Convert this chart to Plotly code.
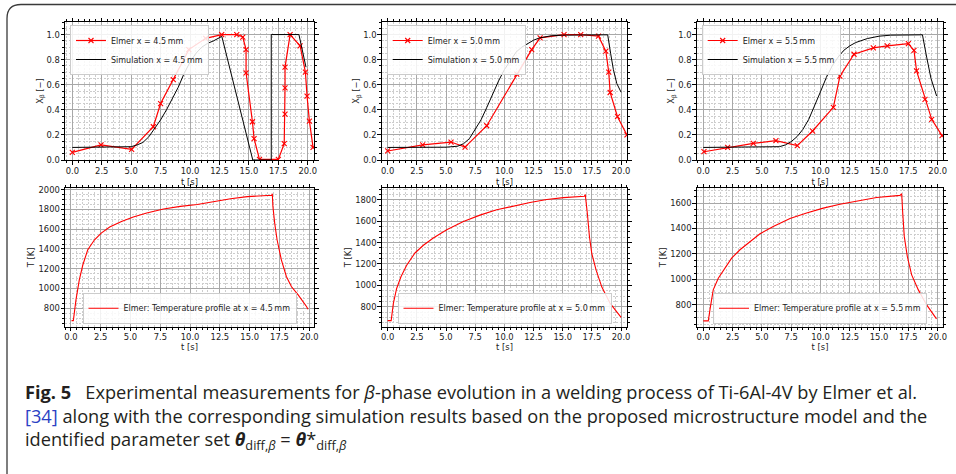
import plotly.graph_objects as go

W, H = 956, 474

# ---------------- data ----------------
# x = 4.5 mm
t_elmer_45 = [0.0, 2.44, 5.04, 6.88, 7.5, 8.58, 9.9, 11.33, 12.69, 13.97, 14.48, 14.76, 14.76, 15.3, 15.44,
              15.9, 17.5, 18.0, 18.07, 18.07, 18.07, 18.5, 19.35, 19.8, 19.94, 20.14, 20.45]
x_elmer_45 = [0.061, 0.12, 0.085, 0.265, 0.45, 0.64, 0.88, 0.97, 1.0, 1.0, 0.98, 0.88, 0.695, 0.305, 0.17,
              0.005, 0.005, 0.13, 0.365, 0.575, 0.74, 1.0, 0.91, 0.70, 0.51, 0.31, 0.1]
t_sim_45 = [0, 1, 2, 3, 4, 5, 5.5, 6, 6.5, 7, 7.5, 8, 8.5, 9, 9.5, 10, 10.5, 11, 11.5, 12, 12.7,
            15.33, 16.9, 16.9, 19.25, 19.85]
x_sim_45 = [0.1, 0.1, 0.1, 0.1, 0.1, 0.106, 0.12, 0.14, 0.185, 0.25, 0.32, 0.40, 0.49, 0.58, 0.69, 0.78,
            0.85, 0.9, 0.93, 0.95, 0.985, 0.0, 0.0, 1.0, 1.0, 0.74]

# x = 5.0 mm
t_elmer_50 = [0.0, 3.0, 5.43, 6.63, 8.49, 11.06, 12.34, 13.06, 15.11, 16.54, 18.06, 18.69, 18.94, 19.06,
              19.69, 20.5]
x_elmer_50 = [0.072, 0.12, 0.143, 0.103, 0.273, 0.684, 0.88, 0.973, 1.0, 1.0, 0.987, 0.867, 0.70, 0.538,
              0.345, 0.2]
t_sim_50 = [0, 1, 2, 3, 4, 5, 6, 6.5, 7, 7.5, 8, 8.5, 9, 9.5, 10, 10.5, 11, 11.5, 12, 12.5, 13, 14, 15,
            16, 17, 18, 18.85, 19.1, 19.34, 19.63, 20.0]
x_sim_50 = [0.1, 0.1, 0.1, 0.1, 0.1, 0.102, 0.11, 0.13, 0.17, 0.24, 0.32, 0.42, 0.53, 0.63, 0.72, 0.79,
            0.86, 0.90, 0.93, 0.955, 0.973, 0.99, 0.995, 0.997, 0.998, 0.998, 0.998, 0.85, 0.72, 0.61, 0.54]

# x = 5.5 mm
t_elmer_55 = [0.06, 2.08, 4.27, 6.2, 8.02, 9.33, 11.1, 11.66, 12.86, 14.51, 15.7, 17.5, 17.98, 18.2,
              18.92, 19.49, 20.37]
x_elmer_55 = [0.066, 0.10, 0.133, 0.154, 0.114, 0.231, 0.42, 0.668, 0.843, 0.894, 0.91, 0.928, 0.873,
              0.71, 0.483, 0.324, 0.194]
t_sim_55 = [0, 1, 2, 3, 4, 5, 6, 6.5, 7, 7.5, 8, 8.5, 9, 9.5, 10, 10.5, 11, 11.5, 12, 12.5, 13, 14, 15,
            16, 17, 18.7, 19.06, 19.43, 19.91]
x_sim_55 = [0.1, 0.1, 0.1, 0.1, 0.1, 0.101, 0.103, 0.106, 0.12, 0.146, 0.186, 0.244, 0.324, 0.43, 0.544,
            0.658, 0.75, 0.82, 0.875, 0.91, 0.936, 0.968, 0.987, 0.995, 0.998, 0.998, 0.82, 0.65, 0.51]

# temperature profiles
t_T_45 = [0.05, 0.2, 0.42, 0.7, 1.0, 1.41, 1.98, 2.54, 3.25, 4.24, 5.23, 6.36, 7.77, 9.18, 10.6, 12.0,
          13.4, 14.8, 16.2, 16.85, 16.9, 16.95, 17.1, 17.3, 17.66, 18.08, 18.5, 19.07, 19.77, 19.9]
T_45 = [675, 675, 885, 1087, 1240, 1392, 1493, 1561, 1622, 1679, 1723, 1764, 1804, 1831, 1850, 1880,
        1908, 1930, 1940, 1944, 1958, 1831, 1662, 1493, 1290, 1121, 1020, 935, 817, 790]
t_T_50 = [0.0, 0.3, 0.49, 0.77, 1.14, 1.63, 2.34, 3.06, 3.91, 5.06, 6.49, 7.91, 9.34, 10.77, 12.2,
          13.63, 15.06, 16.85, 16.93, 17.11, 17.29, 17.49, 17.86, 18.34, 19.06, 20.0]
T_50 = [670, 670, 831, 971, 1080, 1188, 1303, 1375, 1443, 1520, 1598, 1657, 1707, 1744, 1775, 1803,
        1821, 1834, 1849, 1670, 1452, 1297, 1142, 986, 831, 700]
t_T_55 = [0.0, 0.43, 0.57, 0.85, 1.28, 1.85, 2.42, 3.13, 3.98, 4.84, 5.97, 7.4, 8.82, 10.24, 11.66,
          13.09, 14.79, 16.79, 16.93, 17.01, 17.15, 17.41, 17.78, 18.35, 19.06, 19.9]
T_55 = [675, 675, 761, 918, 1010, 1089, 1167, 1233, 1298, 1359, 1416, 1478, 1522, 1560, 1590, 1614,
        1643, 1660, 1673, 1534, 1338, 1180, 1036, 918, 800, 690]

positions = ["4.5", "5.0", "5.5"]
caption_lines = [
    "<b>Fig. 5</b>\u00a0\u00a0\u00a0Experimental measurements for <i>β</i>-phase evolution in a welding process of Ti-6Al-4V by Elmer et al.",
    "<span style=\"color:#2b3fc4\">[34]</span> along with the corresponding simulation results based on the proposed microstructure model and the",
    "identified parameter set <b><i>θ</i></b><sub>diff,<i>β</i></sub> = <b><i>θ</i></b>*<sub>diff,<i>β</i></sub>",
]

# ---------------- layout helpers ----------------
def px_x(p):
    return p / W

def px_y(p):
    return 1 - p / H

FONT = "DejaVu Sans"
TXT = "#222222"
GRID_MAJ = "#a8a8a8"
GRID_MIN = "#cdcdcd"
TICK_FS = 8.4
LEG_FS = 8

col_x = [(65, 314), (381.7, 627.3), (696.7, 943.3)]
row_y = [(22, 160), (188, 326.7)]
x_ranges_top = [[-0.62, 20.53], [-0.51, 20.53], [-0.56, 20.48]]
x_ranges_bot = [[-0.5, 20.4], [-0.51, 20.53], [-0.56, 20.48]]
T_ranges = [[613, 2017], [613, 1911], [629, 1718]]

fig = go.Figure()

def axis_common(dom, rng, dtick, minor_dtick, fmt, tick0=0, lab_off=0):
    return dict(
        domain=dom, range=rng, dtick=dtick, tick0=tick0, tickformat=fmt,
        showline=True, linecolor="black", linewidth=1, mirror="ticks",
        ticks="outside", ticklen=3.5, tickwidth=0.8, tickcolor="black",
        ticklabelstandoff=lab_off,
        showgrid=True, gridcolor=GRID_MAJ, gridwidth=1,
        zeroline=False, automargin=False,
        tickfont=dict(family=FONT, size=TICK_FS, color=TXT),
        minor=dict(dtick=minor_dtick, showgrid=True, gridcolor=GRID_MIN, griddash="2px,1.5px",
                   gridwidth=1, ticks="outside", ticklen=2, tickwidth=0.6, tickcolor="black"),
    )

elmer_t = [t_elmer_45, t_elmer_50, t_elmer_55]
elmer_x = [x_elmer_45, x_elmer_50, x_elmer_55]
sim_t = [t_sim_45, t_sim_50, t_sim_55]
sim_x = [x_sim_45, x_sim_50, x_sim_55]
T_t = [t_T_45, t_T_50, t_T_55]
T_v = [T_45, T_50, T_55]

layout = {}
for i in range(3):
    xa_top = i + 1
    xa_bot = i + 4
    xd = [px_x(col_x[i][0]), px_x(col_x[i][1])]
    yd_top = [px_y(row_y[0][1]), px_y(row_y[0][0])]
    yd_bot = [px_y(row_y[1][1]), px_y(row_y[1][0])]
    tfont = dict(family=FONT, size=TICK_FS, color=TXT)

    xt = axis_common(xd, x_ranges_top[i], 2.5, 0.5, ".1f", lab_off=-1)
    xt.update(anchor=f"y{xa_top}" if xa_top > 1 else "y",
              title=dict(text="t [s]", font=tfont, standoff=4))
    yt = axis_common(yd_top, [0, 1.1], 0.2, 0.05, ".1f", lab_off=-1)
    yt.update(anchor=f"x{xa_top}" if xa_top > 1 else "x",
              title=dict(text="X<sub>β</sub> [−]", font=tfont, standoff=1))
    layout[f"xaxis{xa_top}" if xa_top > 1 else "xaxis"] = xt
    layout[f"yaxis{xa_top}" if xa_top > 1 else "yaxis"] = yt

    xb = axis_common(xd, x_ranges_bot[i], 2.5, 0.5, ".1f", lab_off=-1)
    xb.update(anchor=f"y{xa_bot}",
              title=dict(text="t [s]", font=tfont, standoff=1))
    yb = axis_common(yd_bot, T_ranges[i], 200, 50, "d", tick0=800, lab_off=-1)
    yb.update(anchor=f"x{xa_bot}",
              title=dict(text="T [K]", font=tfont, standoff=2))
    layout[f"xaxis{xa_bot}"] = xb
    layout[f"yaxis{xa_bot}"] = yb

    leg_top = "legend" if i == 0 else f"legend{i + 1}"
    leg_bot = f"legend{i + 4}"
    xs = "x" if i == 0 else f"x{xa_top}"
    ys = "y" if i == 0 else f"y{xa_top}"

    fig.add_trace(go.Scatter(
        x=elmer_t[i], y=elmer_x[i], mode="lines+markers",
        name=f"Elmer x = {positions[i]}\u2009mm",
        line=dict(color="red", width=1.2),
        marker=dict(symbol="x-thin", size=5, line=dict(color="red", width=1.1), color="red"),
        xaxis=xs, yaxis=ys, legend=leg_top))
    fig.add_trace(go.Scatter(
        x=sim_t[i], y=sim_x[i], mode="lines",
        name=f"Simulation x = {positions[i]}\u2009mm",
        line=dict(color="black", width=1.0),
        xaxis=xs, yaxis=ys, legend=leg_top))
    fig.add_trace(go.Scatter(
        x=T_t[i], y=T_v[i], mode="lines",
        name=f"Elmer: Temperature profile at x = {positions[i]}\u2009mm",
        line=dict(color="red", width=1.1),
        xaxis=f"x{xa_bot}", yaxis=f"y{xa_bot}", legend=leg_bot))

    leg_style = dict(bgcolor="rgba(255,255,255,0.85)", bordercolor="#cccccc", borderwidth=1,
                     font=dict(family=FONT, size=LEG_FS, color=TXT), itemwidth=30,
                     xref="paper", yref="paper")
    layout[leg_top] = dict(leg_style, x=px_x(col_x[i][0] + 5), y=px_y(row_y[0][0] + 3),
                           xanchor="left", yanchor="top")
    layout[leg_bot] = dict(leg_style, x=(xd[0] + xd[1]) / 2, y=px_y(row_y[1][1] - 3),
                           xanchor="center", yanchor="bottom")

fig.update_layout(**layout)

# caption (one text block, three lines)
fig.add_annotation(text="<br>".join(caption_lines), xref="paper", yref="paper",
                   x=px_x(23), y=px_y(416.5), xanchor="left", yanchor="middle", align="left",
                   showarrow=False, font=dict(family="Open Sans", size=18.2, color="#231f20"))

# rounded frame
L, T, R, B, r = 7, 4.5, 975, 479, 14
path = (f"M {px_x(L)},{px_y(B)} L {px_x(L)},{px_y(T + r)} "
        f"Q {px_x(L)},{px_y(T)} {px_x(L + r)},{px_y(T)} L {px_x(R)},{px_y(T)}")
fig.add_shape(type="path", path=path, xref="paper", yref="paper",
              line=dict(color="#3a3a3a", width=1.3))

fig.update_layout(width=W, height=H, margin=dict(l=0, r=0, t=0, b=0),
                  paper_bgcolor="white", plot_bgcolor="white", showlegend=True)

fig.write_html("out.html")
